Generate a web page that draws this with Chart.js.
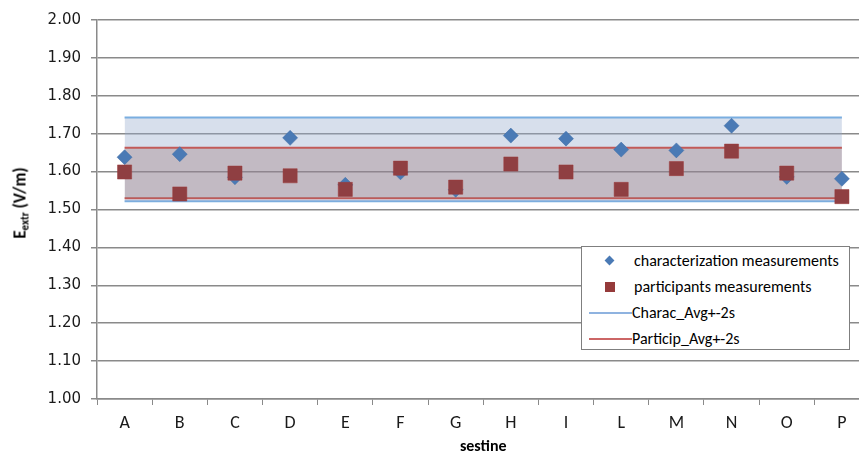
<!DOCTYPE html>
<html>
<head>
<meta charset="utf-8">
<script src="https://cdn.jsdelivr.net/npm/chart.js@4/dist/chart.umd.min.js"></script>
<style>
  html, body { margin: 0; padding: 0; background: #fff; overflow: hidden; }
  #wrap { position: relative; width: 859px; height: 459px; overflow: hidden; }
  canvas { position: absolute; left: 0; top: 0; }
  #ytitle {
    position: absolute; left: 20px; top: 203px;
    transform: translate(-50%, -50%) rotate(-90deg);
    white-space: nowrap; font-family: Carlito, Calibri, Lato, sans-serif;
    font-weight: bold; font-size: 17px; color: #000;
  }
  #ytitle sub { font-size: 11px; vertical-align: -3px; line-height: 0; }
  #legend {
    position: absolute; left: 581px; top: 246px; width: 269px; height: 104px;
    background: #fff; border: 1px solid #7f7f7f; box-sizing: border-box;
    font-family: Carlito, Calibri, Lato, sans-serif; font-size: 16px; color: #000;
  }
  .row { position: absolute; left: 0; height: 20px; line-height: 20px; white-space: nowrap; }
  .mk { position: absolute; }
</style>
</head>
<body>
<div id="wrap">
  <canvas id="c" width="880" height="459" style="width:880px;height:459px;"></canvas>
  <div id="ytitle">E<sub>extr</sub> (V/m)</div>
  <div id="legend">
    <div class="row" style="top:4px;"><span class="mk" style="left:24px;top:6px;width:7px;height:7px;background:#4a7ab5;transform:rotate(45deg);"></span><span style="position:absolute;left:52px;">characterization measurements</span></div>
    <div class="row" style="top:30px;"><span class="mk" style="left:23px;top:5px;width:10px;height:10px;background:#953a3a;"></span><span style="position:absolute;left:52px;">participants measurements</span></div>
    <div class="row" style="top:56px;"><span class="mk" style="left:7px;top:9px;width:43px;height:2px;background:#8fb3e0;"></span><span style="position:absolute;left:50px;">Charac_Avg+-2s</span></div>
    <div class="row" style="top:82px;"><span class="mk" style="left:7px;top:9px;width:43px;height:2px;background:#cc6666;"></span><span style="position:absolute;left:50px;">Particip_Avg+-2s</span></div>
  </div>
</div>
<script>
const categories = ['A','B','C','D','E','F','G','H','I','L','M','N','O','P'];
const characterization = [1.638, 1.646, 1.585, 1.689, 1.565, 1.598, 1.552, 1.695, 1.687, 1.658, 1.656, 1.721, 1.586, 1.581];
const participants     = [1.599, 1.541, 1.596, 1.589, 1.553, 1.609, 1.559, 1.620, 1.599, 1.553, 1.608, 1.654, 1.596, 1.534];
const characUpper = [1.743, 1.743, 1.743, 1.743, 1.743, 1.743, 1.743, 1.743, 1.743, 1.743, 1.743, 1.743, 1.743, 1.743];
const characLower = [1.522, 1.522, 1.522, 1.522, 1.522, 1.522, 1.522, 1.522, 1.522, 1.522, 1.522, 1.522, 1.522, 1.522];
const participUpper = [1.663, 1.663, 1.663, 1.663, 1.663, 1.663, 1.663, 1.663, 1.663, 1.663, 1.663, 1.663, 1.663, 1.663];
const participLower = [1.530, 1.530, 1.530, 1.530, 1.530, 1.530, 1.530, 1.530, 1.530, 1.530, 1.530, 1.530, 1.530, 1.530];
const yTicks = [1.00, 1.10, 1.20, 1.30, 1.40, 1.50, 1.60, 1.70, 1.80, 1.90, 2.00];

const FONT = 'Carlito, Calibri, Lato, sans-serif';
const gridColor = '#8a8a8a';

const chart = new Chart(document.getElementById('c'), {
  type: 'line',
  data: {
    labels: categories,
    datasets: [
      { label: 'characterization measurements', data: characterization, showLine: false,
        pointStyle: 'rectRot', pointRadius: 7.5, pointHoverRadius: 7.5,
        backgroundColor: '#4a7ab5', borderColor: '#3f6da6', borderWidth: 0.5, order: 1 },
      { label: 'participants measurements', data: participants, showLine: false,
        pointStyle: 'rect', pointRadius: 10, pointHoverRadius: 10,
        backgroundColor: '#8f3f42', borderColor: '#9c3a3a', borderWidth: 0.5, order: 0 },
      { label: 'Particip_Avg+-2s upper', data: participUpper, borderColor: '#c25a58', borderWidth: 2,
        pointRadius: 0, fill: 3, backgroundColor: 'rgba(146,99,100,0.30)', order: 2 },
      { label: 'Particip_Avg+-2s lower', data: participLower, borderColor: '#c25a58', borderWidth: 2,
        pointRadius: 0, fill: false, order: 3 },
      { label: 'Charac_Avg+-2s upper', data: characUpper, borderColor: '#7aaee0', borderWidth: 2,
        pointRadius: 0, fill: 5, backgroundColor: 'rgba(150,170,205,0.38)', order: 4 },
      { label: 'Charac_Avg+-2s lower', data: characLower, borderColor: '#7aaee0', borderWidth: 2,
        pointRadius: 0, fill: false, order: 5 }
    ]
  },
  options: {
    responsive: false,
    animation: false,
    events: [],
    layout: { padding: { top: 20, right: 0, bottom: 0, left: 0 } },
    plugins: { legend: { display: false }, tooltip: { enabled: false } },
    scales: {
      x: {
        offset: true,
        grid: { display: true, offset: true, drawOnChartArea: false, color: gridColor, tickLength: 6, lineWidth: 1 },
        border: { color: gridColor, width: 1.5 },
        ticks: { color: '#1a1a1a', font: { family: FONT, size: 18 }, padding: 8, maxRotation: 0, autoSkip: false },
        title: { display: true, text: 'sestine', color: '#000', font: { family: FONT, size: 16, weight: 'bold' }, padding: { top: 0, bottom: 2 } },
        afterFit: (s) => { s.height = 60; }
      },
      y: {
        min: 1, max: 2,
        afterBuildTicks: (s) => { s.ticks = yTicks.map(v => ({ value: v })); },
        grid: { color: gridColor, tickLength: 6, lineWidth: 1.5 },
        border: { color: gridColor, width: 1.5 },
        ticks: { color: '#1a1a1a', font: { family: '"DejaVu Sans", sans-serif', size: 15 }, padding: 10,
                 callback: (v) => Number(v).toFixed(2) },
        afterFit: (s) => { s.width = 97; }
      }
    }
  }
});
</script>
</body>
</html>
